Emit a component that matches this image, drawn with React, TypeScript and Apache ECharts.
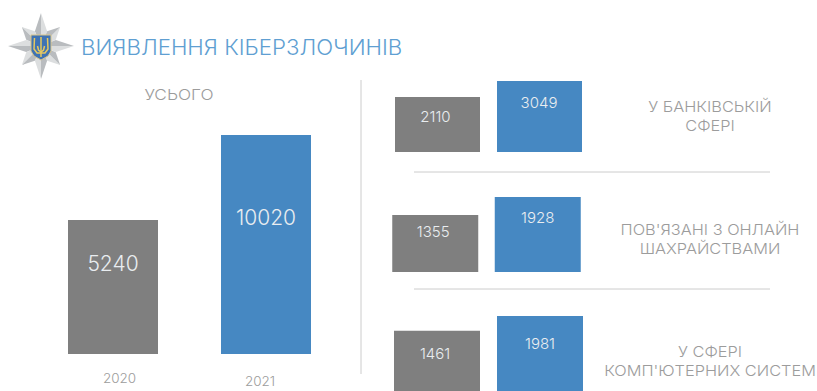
import React, { useEffect, useRef } from "react";
import * as echarts from "echarts";

const W = 817;
const H = 391;
const FONT = "Inter, 'Open Sans', sans-serif";

// Detection counts
const years = ["2020", "2021"];
const totalValues = [5240, 10020];
const bankingValues = [2110, 3049];
const fraudValues = [1355, 1928];
const computerValues = [1461, 1981];

// Captions
const titleText = "ВИЯВЛЕННЯ КІБЕРЗЛОЧИНІВ";
const totalCaption = "УСЬОГО";
const bankingCaption = ["У БАНКІВСЬКІЙ", "СФЕРІ"];
const fraudCaption = ["ПОВ'ЯЗАНІ З ОНЛАЙН", "ШАХРАЙСТВАМИ"];
const computerCaption = ["У СФЕРІ", "КОМП'ЮТЕРНИХ СИСТЕМ"];

const GREY = "#7f7f7f";
const BLUE = "#4688c2";
const CAPTION = "#9c9c9c";
const RULE = "#cccccc";

type Panel = {
  values: number[];
  left: number;
  width: number;
  top: number;
  height: number;
  axisMin: number;
  barWidth: number;
  fontSize: number;
  labelDistance: number[];
  labelShift: number[];
};

// Each panel has its own hidden log axis, so bars keep a readable height at any magnitude.
const panels: Panel[] = [
  { values: totalValues, left: 36.5, width: 306, top: 135, height: 219, axisMin: 1883, barWidth: 90, fontSize: 21, labelDistance: [33, 72], labelShift: [0, 0] },
  { values: bankingValues, left: 386.5, width: 204, top: 81, height: 71, axisMin: 594, barWidth: 85, fontSize: 15, labelDistance: [12, 14], labelShift: [-2, -0.5] },
  { values: fraudValues, left: 384, width: 205, top: 197, height: 75, axisMin: 444, barWidth: 86, fontSize: 15, labelDistance: [9, 13], labelShift: [-2, 0] },
  { values: computerValues, left: 385.5, width: 206, top: 316, height: 85, axisMin: 420, barWidth: 86, fontSize: 15, labelDistance: [15, 20], labelShift: [-2, 0] },
];

// The caption typeface is widened horizontally to get its broad geometric proportions.
function caption(text: string, x: number, y: number, fontSize = 15, widen = 1.09, fill = CAPTION, textAlign = "center") {
  return {
    type: "text",
    silent: true,
    x,
    y,
    scaleX: widen,
    style: { text, x: 0, y: 0, fill, textAlign, textVerticalAlign: "middle", font: `300 ${fontSize}px ${FONT}` },
  };
}

function rule(x1: number, y1: number, x2: number, y2: number) {
  return { type: "line", silent: true, shape: { x1, y1, x2, y2 }, style: { stroke: RULE, lineWidth: 1 } };
}

// Police star: eight faceted rays around a shield with a gold trident.
function emblem() {
  const cx = 41;
  const cy = 46;
  const items: any[] = [];
  for (let i = 0; i < 8; i++) {
    const a = (i * Math.PI) / 4 - Math.PI / 2;
    const r = i % 2 === 0 ? 33 : 27;
    const tip = [cx + r * Math.cos(a), cy + r * Math.sin(a)];
    const side = (d: number) => [cx + 16 * Math.cos(a + d), cy + 16 * Math.sin(a + d)];
    items.push({ type: "polygon", silent: true, shape: { points: [[cx, cy], tip, side(0.39)] }, style: { fill: "#dcdedf" } });
    items.push({ type: "polygon", silent: true, shape: { points: [[cx, cy], tip, side(-0.39)] }, style: { fill: "#b9bcbf" } });
  }
  items.push({
    type: "polygon",
    silent: true,
    shape: { points: [[31, 35], [51, 35], [51, 51], [48, 56], [41, 60], [34, 56], [31, 51]] },
    style: { fill: "#3f73b4", stroke: "#d8c48a", lineWidth: 1 },
  });
  const gold = { stroke: "#e6c85f", lineWidth: 1.5, fill: "none" };
  items.push({ type: "polyline", silent: true, shape: { points: [[41, 37], [41, 57]] }, style: gold });
  items.push({ type: "polyline", silent: true, shape: { points: [[34.5, 38], [34, 49], [37, 53], [45, 53], [48, 49], [47.5, 38]] }, style: gold });
  items.push({ type: "polyline", silent: true, shape: { points: [[37.5, 46], [38.5, 50], [41, 52], [43.5, 50], [44.5, 46]] }, style: gold });
  return items;
}

export default function App() {
  const ref = useRef<HTMLDivElement>(null);

  useEffect(() => {
    const chart = echarts.init(ref.current!, null, { renderer: "svg" });
    chart.setOption({
      animation: false,
      backgroundColor: "#ffffff",
      grid: panels.map((p) => ({ left: p.left, top: p.top, width: p.width, height: p.height })),
      xAxis: panels.map((_, i) => ({
        type: "category",
        gridIndex: i,
        show: false,
        data: years,
      })),
      yAxis: panels.map((p, i) => ({
        type: "log",
        gridIndex: i,
        show: false,
        min: p.axisMin,
        max: Math.max(...p.values),
      })),
      series: panels.map((p, i) => ({
        type: "bar",
        xAxisIndex: i,
        yAxisIndex: i,
        barWidth: p.barWidth,
        clip: true,
        data: p.values.map((value, k) => ({
          value,
          itemStyle: { color: k === 0 ? GREY : BLUE },
          label: {
            show: true,
            position: "insideTop",
            distance: p.labelDistance[k],
            offset: [p.labelShift[k], 0],
            color: "#e9edf0",
            fontFamily: FONT,
            fontWeight: 300,
            fontSize: p.fontSize,
          },
        })),
      })),
      graphic: [
        ...emblem(),
        caption(titleText, 81, 47, 21, 1.06, "#5f9fd2", "left"),
        caption(totalCaption, 179, 94, 15, 1.15),
        caption(years[0], 119.5, 378, 12.5, 1.08),
        caption(years[1], 260, 381, 12.5, 1.08),
        rule(361, 80, 361, 374),
        rule(414, 172, 770, 172),
        rule(414, 289, 770, 289),
        caption(bankingCaption[0], 710, 107),
        caption(bankingCaption[1], 710, 126),
        caption(fraudCaption[0], 710, 230),
        caption(fraudCaption[1], 710, 249),
        caption(computerCaption[0], 710, 352),
        caption(computerCaption[1], 710, 371),
      ],
    });
    return () => chart.dispose();
  }, []);

  return <div ref={ref} style={{ position: "fixed", left: 0, top: 0, width: W, height: H }} />;
}
